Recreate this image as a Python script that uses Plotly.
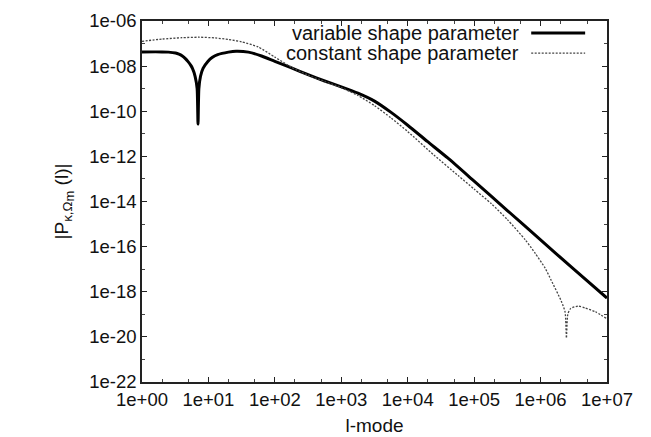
import plotly.graph_objects as go

# ---- data ----
l_variable = [1, 2, 2.5, 3.2, 3.6, 4.0, 4.5, 4.9, 5.4, 5.75, 6.3, 6.76, 6.97, 7.18, 7.6, 8.3, 9.8, 11.5,
              13.8, 20, 26, 40, 63, 100, 178, 316, 562, 1000, 1780, 3160, 5620, 1e4, 2e4, 4e4, 1e5,
              3.16e5, 1e6, 3.16e6, 1e7]
p_variable = [4.27e-8, 4.27e-8, 4.17e-8, 3.80e-8, 3.39e-8, 2.88e-8, 2.14e-8, 1.62e-8, 1.10e-8, 7.94e-9,
              3.55e-9, 1.0e-9, 2.69e-11, 1.0e-9, 3.55e-9, 7.94e-9, 1.62e-8, 2.45e-8,
              3.24e-8, 4.17e-8, 4.57e-8, 4.17e-8, 2.82e-8, 1.62e-8, 8.32e-9, 4.17e-9, 2.19e-9, 1.20e-9,
              6.31e-10, 2.82e-10, 8.91e-11, 2.40e-11, 4.47e-12, 8.51e-13, 7.94e-14,
              3.98e-15, 2.0e-16, 1.0e-17, 5.25e-19]

l_constant = [1, 2, 4, 7.1, 12.6, 20, 31.6, 56, 100, 178, 316, 562, 1000, 1780, 3160, 5620, 1e4,
              2.5e4, 5.75e4, 1e5, 1.82e5, 3.16e5, 5.89e5, 8.32e5, 1.17e6, 1.45e6, 2.04e6, 2.34e6,
              2.45e6, 2.57e6, 2.82e6, 3.72e6, 4.68e6, 6.61e6, 1e7]
p_constant = [1.26e-7, 1.58e-7, 1.82e-7, 1.91e-7, 1.78e-7, 1.51e-7, 1.20e-7, 7.08e-8, 2.51e-8, 8.91e-9,
              3.98e-9, 2.09e-9, 1.12e-9, 5.01e-10, 1.78e-10, 5.01e-11, 1.26e-11, 1.12e-12, 1.41e-13,
              3.55e-14, 7.94e-15, 1.58e-15, 2.0e-16, 5.01e-17, 1.12e-17, 3.16e-18, 3.98e-19, 1.26e-19,
              8.91e-21, 1.0e-19, 1.78e-19, 2.34e-19, 1.91e-19, 1.32e-19, 6.31e-20]

x_tickvals = [1, 1e1, 1e2, 1e3, 1e4, 1e5, 1e6, 1e7]
x_ticktext = ["1e+00", "1e+01", "1e+02", "1e+03", "1e+04", "1e+05", "1e+06", "1e+07"]
y_tickvals = [1e-22, 1e-20, 1e-18, 1e-16, 1e-14, 1e-12, 1e-10, 1e-08, 1e-06]
y_ticktext = ["1e-22", "1e-20", "1e-18", "1e-16", "1e-14", "1e-12", "1e-10", "1e-08", "1e-06"]
y_minor = [1e-21, 1e-19, 1e-17, 1e-15, 1e-13, 1e-11, 1e-09, 1e-07]
x_minor = [m * 10 ** d for d in range(7) for m in (2, 5)]

legend_labels = ["variable shape parameter", "constant shape parameter"]

FONT = "Liberation Sans, Arial, sans-serif"

fig = go.Figure()
fig.add_trace(go.Scatter(x=l_variable, y=p_variable, mode="lines",
                         line=dict(color="black", width=3, shape="spline", smoothing=0.6),
                         name=legend_labels[0]))
fig.add_trace(go.Scatter(x=l_constant, y=p_constant, mode="lines",
                         line=dict(color="#444", width=1.3, dash="2px,1.5px", shape="spline",
                                   smoothing=0.6),
                         name=legend_labels[1]))

axis_common = dict(type="log", showgrid=False, zeroline=False, showline=True, linecolor="#222",
                   linewidth=1.5, mirror="allticks", ticks="inside", ticklen=5, tickwidth=1,
                   tickcolor="#222", automargin=False,
                   tickfont=dict(family=FONT, size=18.5, color="#111"))

fig.update_xaxes(**axis_common, range=[0, 7], tickvals=x_tickvals, ticktext=x_ticktext,
                 minor=dict(tickvals=x_minor, ticks="inside", ticklen=3, tickcolor="#444"),
                 title=dict(text="l-mode", font=dict(family=FONT, size=19, color="#111"), standoff=10))
fig.update_yaxes(**axis_common, range=[-22, -6], tickvals=y_tickvals, ticktext=y_ticktext,
                 minor=dict(tickvals=y_minor, ticks="inside", ticklen=3, tickcolor="#444"),
                 title=dict(text='|P<sub>κ,Ω<sub><span style="font-size:13px">m</span></sub></sub> (l)|',
                            font=dict(family=FONT, size=19, color="#111"), standoff=16))

# legend in gnuplot style: text right-aligned, sample to its right
rows = [0.967, 0.911]
styles = [dict(color="black", width=3), dict(color="#444", width=1.3, dash="2px,1.5px")]
for label, yy, st in zip(legend_labels, rows, styles):
    fig.add_annotation(x=0.815, y=yy, xref="paper", yref="paper", text=label, showarrow=False,
                       xanchor="right", yanchor="middle",
                       font=dict(family=FONT, size=20, color="#111"))
    fig.add_shape(type="line", xref="paper", yref="paper", x0=0.837, x1=0.953, y0=yy, y1=yy, line=st)

fig.update_layout(width=651, height=437, margin=dict(l=134, r=52, t=13, b=63, autoexpand=False),
                  paper_bgcolor="white", plot_bgcolor="white", showlegend=False)

fig.write_html("out.html")
